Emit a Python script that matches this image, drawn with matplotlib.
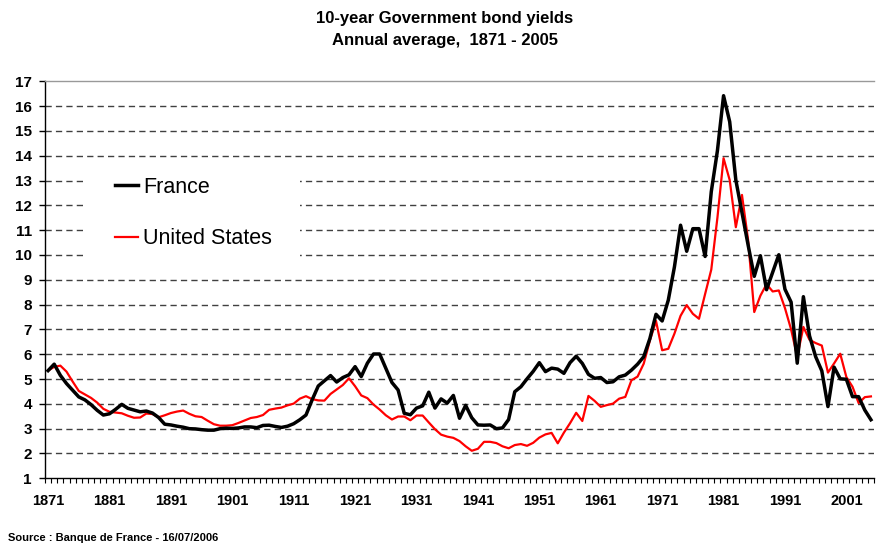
import matplotlib
matplotlib.use('Agg')
import matplotlib.pyplot as plt
import numpy as np
from matplotlib.patches import Rectangle

plt.rcParams['font.family'] = ['Liberation Sans', 'DejaVu Sans']

years = list(range(1871, 2006))

france = [
    5.34, 5.60, 5.15, 4.82, 4.55, 4.28, 4.16, 3.97, 3.74, 3.55,   # 1871-1880
    3.60, 3.78, 3.98, 3.82, 3.75, 3.68, 3.71, 3.63, 3.45, 3.18,   # 1881-1890
    3.15, 3.10, 3.06, 3.00, 2.99, 2.96, 2.94, 2.94, 3.00, 3.02,   # 1891-1900
    3.01, 3.03, 3.07, 3.07, 3.04, 3.13, 3.14, 3.09, 3.05, 3.10,   # 1901-1910
    3.20, 3.36, 3.55, 4.16, 4.72, 4.93, 5.14, 4.88, 5.06, 5.17,   # 1911-1920
    5.50, 5.10, 5.64, 6.01, 6.01, 5.44, 4.86, 4.56, 3.62, 3.56,   # 1921-1930
    3.83, 3.92, 4.47, 3.83, 4.20, 4.03, 4.34, 3.42, 3.94, 3.44,   # 1931-1940
    3.15, 3.14, 3.15, 3.00, 3.03, 3.37, 4.49, 4.69, 5.01, 5.31,   # 1941-1950
    5.66, 5.30, 5.44, 5.40, 5.23, 5.66, 5.92, 5.63, 5.19, 5.03,   # 1951-1960
    5.06, 4.86, 4.89, 5.09, 5.16, 5.36, 5.60, 5.90, 6.63, 7.61,   # 1961-1970
    7.34, 8.18, 9.52, 11.20, 10.15, 11.06, 11.06, 9.94, 12.55, 14.20,  # 1971-1980
    16.42, 15.37, 13.02, 11.70, 10.40, 9.14, 9.97, 8.60, 9.30, 10.01,  # 1981-1990
    8.62, 8.10, 5.64, 8.32, 6.74, 5.90, 5.33, 3.89, 5.48, 5.01,   # 1991-2000
    4.99, 4.29, 4.29, 3.75, 3.36,                                 # 2001-2005
]

us = [
    5.34, 5.49, 5.54, 5.30, 4.90, 4.52, 4.38, 4.24, 4.05, 3.80,   # 1871-1880
    3.68, 3.65, 3.62, 3.52, 3.44, 3.45, 3.61, 3.59, 3.46, 3.54,   # 1881-1890
    3.63, 3.69, 3.73, 3.60, 3.50, 3.47, 3.32, 3.18, 3.12, 3.12,   # 1891-1900
    3.14, 3.23, 3.33, 3.43, 3.47, 3.55, 3.76, 3.81, 3.85, 3.94,   # 1901-1910
    4.01, 4.21, 4.31, 4.19, 4.14, 4.13, 4.40, 4.58, 4.76, 5.03,   # 1911-1920
    4.71, 4.34, 4.23, 3.97, 3.77, 3.54, 3.37, 3.49, 3.49, 3.34,   # 1921-1930
    3.53, 3.53, 3.25, 2.98, 2.76, 2.68, 2.63, 2.50, 2.29, 2.11,   # 1931-1940
    2.19, 2.47, 2.47, 2.42, 2.29, 2.21, 2.34, 2.38, 2.31, 2.43,   # 1941-1950
    2.64, 2.77, 2.83, 2.41, 2.84, 3.22, 3.64, 3.31, 4.32, 4.12,   # 1951-1960
    3.88, 3.95, 4.01, 4.21, 4.28, 4.95, 5.10, 5.62, 6.55, 7.34,   # 1961-1970
    6.16, 6.22, 6.83, 7.55, 7.98, 7.63, 7.43, 8.43, 9.41, 11.50,  # 1971-1980
    13.90, 13.02, 11.12, 12.42, 10.60, 7.70, 8.36, 8.82, 8.53, 8.57,  # 1981-1990
    7.86, 7.00, 5.90, 7.10, 6.58, 6.45, 6.35, 5.26, 5.63, 6.02,   # 1991-2000
    5.08, 4.69, 4.03, 4.27, 4.30,                                 # 2001-2005
]

xtick_labels = list(range(1871, 2002, 10))
ytick_values = list(range(1, 18))

W, H = 877, 546
fig = plt.figure(figsize=(W / 100, H / 100), dpi=100)
ax_left, ax_right, ax_top, ax_bottom = 45, 874, 81.3, 478.3
ax = fig.add_axes([ax_left / W, 1 - ax_bottom / H, (ax_right - ax_left) / W, (ax_bottom - ax_top) / H])

# gridlines
for v in ytick_values[1:-1]:
    ax.axhline(v, color='#404040', lw=1.0, linestyle=(0, (4.5, 3)), zorder=1)

l1, = ax.plot(years, france, color='black', lw=2.5, label='France', zorder=3)
l2, = ax.plot(years, us, color='#ff0000', lw=1.6, label='United States', zorder=2.5)

ax.set_xlim(1870.5, 2005.5)
ax.set_ylim(1, 17)

ax.set_yticks(ytick_values)
ax.set_yticklabels([str(v) for v in ytick_values], fontweight='bold', fontsize=11)
ax.tick_params(axis='y', direction='out', length=4.5, width=1, pad=5, colors='black')

ax.set_xticks(xtick_labels)
ax.set_xticklabels([str(v) for v in xtick_labels], fontweight='bold', fontsize=10.5)
ax.set_xticks(np.arange(1870.5, 2006, 1.0), minor=True)
ax.tick_params(axis='x', which='major', length=0, pad=11)
ax.tick_params(axis='x', which='minor', direction='out', length=3.5, width=0.8)

for s in ['left', 'bottom']:
    ax.spines[s].set_color('black')
    ax.spines[s].set_linewidth(1.0)
ax.spines['right'].set_visible(False)
ax.spines['top'].set_color('#999999')
ax.spines['top'].set_linewidth(1.0)

# legend background
pw, ph = ax_right - ax_left, ax_bottom - ax_top
ax.add_patch(Rectangle(((85 - ax_left) / pw, (ax_bottom - 266) / ph),
                       (300 - 85) / pw, (266 - 163) / ph,
                       transform=ax.transAxes, facecolor='white', edgecolor='none', zorder=1.5))
leg = ax.legend(handles=[l1, l2], loc='upper left',
                bbox_to_anchor=((115 - ax_left) / pw, (ax_bottom - 177) / ph),
                frameon=False, fontsize=15.5, borderpad=0, borderaxespad=0,
                handlelength=1.05, handletextpad=0.25, labelspacing=1.4)
leg.set_zorder(4)

fig.text(445 / W, 1 - 18 / H, '10-year Government bond yields', ha='center', va='center',
         fontweight='bold', fontsize=12)
fig.text(445 / W, 1 - 41 / H, 'Annual average,  1871 - 2005', ha='center', va='center',
         fontweight='bold', fontsize=12)
fig.text(8 / W, 1 - 538 / H, 'Source : Banque de France - 16/07/2006', ha='left', va='center',
         fontweight='bold', fontsize=8)

fig.savefig('out.png', dpi=100)
